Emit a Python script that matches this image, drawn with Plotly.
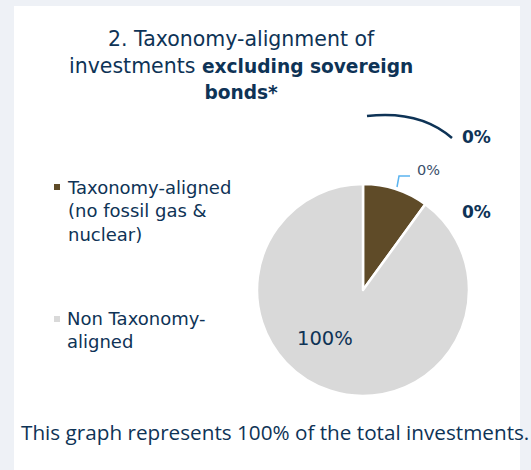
import plotly.graph_objects as go

# Chart data
categories = ["Taxonomy-aligned (no fossil gas & nuclear)", "Non Taxonomy-aligned"]
legend_labels = ["Taxonomy-aligned<br>(no fossil gas &<br>nuclear)", "Non Taxonomy-<br>aligned"]
shares = [10, 90]
share_labels = ["0%", "100%"]
side_labels = ["0%", "0%"]
colors = ["#5F4B28", "#D9D9D9"]

W, H = 531, 470
NAVY = "#0E3356"
FONT = "DejaVu Sans"


def px(x):
    return x / W


def py(y):
    return 1 - y / H


fig = go.Figure()

cx, cy, r = 363, 290, 106
fig.add_trace(go.Pie(
    labels=categories,
    values=shares,
    marker=dict(colors=colors, line=dict(color="white", width=2.5)),
    sort=False,
    direction="clockwise",
    rotation=0,
    textinfo="none",
    hoverinfo="label+percent",
    showlegend=False,
    domain=dict(x=[px(cx - r), px(cx + r)], y=[py(cy + r), py(cy - r)]),
))

shapes = [
    # white card
    dict(type="rect", xref="paper", yref="paper", x0=px(14), x1=px(520),
         y0=0, y1=py(6), fillcolor="white", line=dict(width=0), layer="below"),
    # legend swatches
    dict(type="rect", xref="paper", yref="paper", x0=px(54), x1=px(60),
         y0=py(190), y1=py(184), fillcolor=colors[0], line=dict(width=0)),
    dict(type="rect", xref="paper", yref="paper", x0=px(54), x1=px(60),
         y0=py(322), y1=py(316), fillcolor=colors[1], line=dict(width=0)),
    # leader line for the small slice
    dict(type="path", xref="paper", yref="paper",
         path=f"M {px(397)} {py(187)} L {px(399)} {py(176)} L {px(410)} {py(176)}",
         line=dict(color="#5BB4F0", width=1.5)),
    # dark arc at top right
    dict(type="path", xref="paper", yref="paper",
         path=f"M {px(367)} {py(116)} Q {px(420)} {py(110)} {px(452)} {py(138)}",
         line=dict(color=NAVY, width=2.5)),
]

bold = '<b><span style="font-size:18.6px">{}</span></b>'
title = ("2. Taxonomy-alignment of<br>investments " + bold.format("excluding sovereign")
         + "<br>" + bold.format("bonds*"))

annotations = [
    dict(text=title,
         x=px(241), y=py(65), xref="paper", yref="paper", showarrow=False,
         xanchor="center", yanchor="middle", align="center",
         font=dict(family=FONT, size=20.5, color=NAVY)),
    dict(text=legend_labels[0], x=px(65), y=py(175), xref="paper", yref="paper",
         showarrow=False, xanchor="left", yanchor="top", align="left",
         font=dict(family=FONT, size=18, color=NAVY)),
    dict(text=legend_labels[1], x=px(65), y=py(306), xref="paper", yref="paper",
         showarrow=False, xanchor="left", yanchor="top", align="left",
         font=dict(family=FONT, size=18, color=NAVY)),
    dict(text=share_labels[0], x=px(428), y=py(170), xref="paper", yref="paper",
         showarrow=False, xanchor="center", yanchor="middle",
         font=dict(family=FONT, size=14.5, color="#3A4F6A")),
    dict(text=share_labels[1], x=px(325), y=py(338), xref="paper", yref="paper",
         showarrow=False, xanchor="center", yanchor="middle",
         font=dict(family=FONT, size=19.5, color=NAVY)),
    dict(text=f"<b>{side_labels[0]}</b>", x=px(476), y=py(137), xref="paper", yref="paper",
         showarrow=False, xanchor="center", yanchor="middle",
         font=dict(family=FONT, size=17, color=NAVY)),
    dict(text=f"<b>{side_labels[1]}</b>", x=px(476), y=py(212), xref="paper", yref="paper",
         showarrow=False, xanchor="center", yanchor="middle",
         font=dict(family=FONT, size=17, color=NAVY)),
    dict(text="This graph represents 100% of the total investments.",
         x=px(19), y=py(432), xref="paper", yref="paper", showarrow=False,
         xanchor="left", yanchor="middle",
         font=dict(family="Open Sans", size=20.7, color=NAVY)),
]

fig.update_layout(
    width=W, height=H,
    margin=dict(l=0, r=0, t=0, b=0),
    paper_bgcolor="#EEF1F6",
    plot_bgcolor="#EEF1F6",
    shapes=shapes,
    annotations=annotations,
)

fig.write_html("out.html")
